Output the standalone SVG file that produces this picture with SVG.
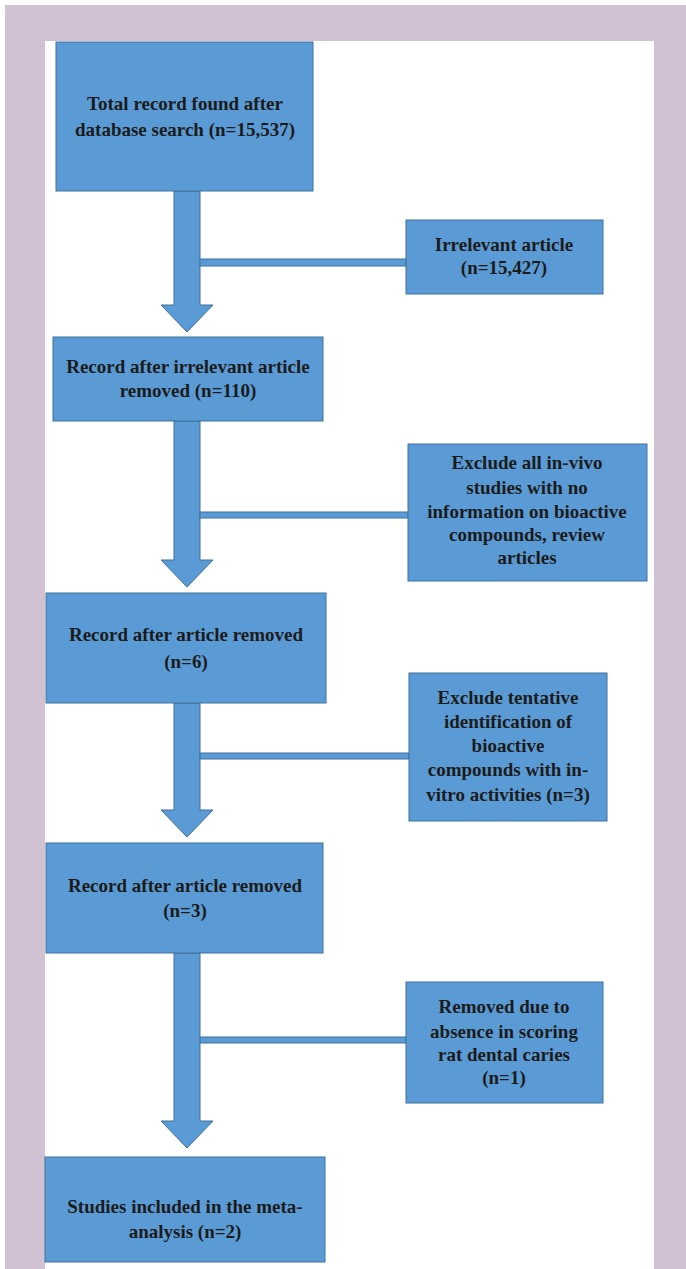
<svg xmlns="http://www.w3.org/2000/svg" width="686" height="1269" viewBox="0 0 686 1269">
<style>
.box{fill:#5b9bd5;stroke:#41719c;stroke-width:1}
.arr{fill:#5b9bd5;stroke:#41719c;stroke-width:1}
.t{font-family:"Liberation Serif","Times New Roman",serif;font-weight:bold;font-size:19px;fill:#1b1b1b;text-anchor:middle}
</style>
<rect x="0" y="0" width="686" height="1269" fill="#ffffff"/>
<rect x="5" y="5" width="681" height="1264" fill="#d1c2d3"/>
<rect x="45" y="41" width="609" height="1228" fill="#ffffff"/>
<g id="connectors">
<path class="arr" d="M174,191 L200,191 L200,305 L213,305 L187,332 L161,305 L174,305 Z"/>
<rect class="arr" x="200" y="259" width="206" height="7"/>
<path class="arr" d="M174,421 L200,421 L200,560 L213,560 L187,587 L161,560 L174,560 Z"/>
<rect class="arr" x="200" y="512" width="208" height="6"/>
<path class="arr" d="M174,703 L200,703 L200,810 L213,810 L187,837 L161,810 L174,810 Z"/>
<rect class="arr" x="200" y="753" width="209" height="6"/>
<path class="arr" d="M174,953 L200,953 L200,1121 L213,1121 L187,1148 L161,1121 L174,1121 Z"/>
<rect class="arr" x="200" y="1037" width="206" height="6"/>
</g>
<g id="n1">
<rect class="box" x="56" y="42" width="257" height="149"/>
<text class="t" x="185" y="110">Total record found after</text>
<text class="t" x="185" y="136">database search (n=15,537)</text>
</g>
<g id="n2">
<rect class="box" x="406" y="220" width="197" height="74"/>
<text class="t" x="504" y="251">Irrelevant article</text>
<text class="t" x="504" y="274">(n=15,427)</text>
</g>
<g id="n3">
<rect class="box" x="53" y="337" width="270" height="84"/>
<text class="t" x="188" y="373">Record after irrelevant article</text>
<text class="t" x="188" y="397">removed (n=110)</text>
</g>
<g id="n4">
<rect class="box" x="408" y="444" width="239" height="137"/>
<text class="t" x="527" y="469">Exclude all in-vivo</text>
<text class="t" x="527" y="494">studies with no</text>
<text class="t" x="527" y="518">information on bioactive</text>
<text class="t" x="527" y="541">compounds, review</text>
<text class="t" x="527" y="564">articles</text>
</g>
<g id="n5">
<rect class="box" x="46" y="593" width="280" height="110"/>
<text class="t" x="186" y="641">Record after article removed</text>
<text class="t" x="186" y="668">(n=6)</text>
</g>
<g id="n6">
<rect class="box" x="409" y="673" width="198" height="148"/>
<text class="t" x="508" y="704">Exclude tentative</text>
<text class="t" x="508" y="728">identification of</text>
<text class="t" x="508" y="752">bioactive</text>
<text class="t" x="508" y="776">compounds with in-</text>
<text class="t" x="508" y="801">vitro activities (n=3)</text>
</g>
<g id="n7">
<rect class="box" x="46" y="843" width="277" height="110"/>
<text class="t" x="185" y="892">Record after article removed</text>
<text class="t" x="185" y="917">(n=3)</text>
</g>
<g id="n8">
<rect class="box" x="406" y="982" width="197" height="121"/>
<text class="t" x="504" y="1013">Removed due to</text>
<text class="t" x="504" y="1038">absence in scoring</text>
<text class="t" x="504" y="1061">rat dental caries</text>
<text class="t" x="504" y="1084">(n=1)</text>
</g>
<g id="n9">
<rect class="box" x="45" y="1157" width="280" height="105"/>
<text class="t" x="185" y="1213">Studies included in the meta-</text>
<text class="t" x="185" y="1238">analysis (n=2)</text>
</g>
</svg>
